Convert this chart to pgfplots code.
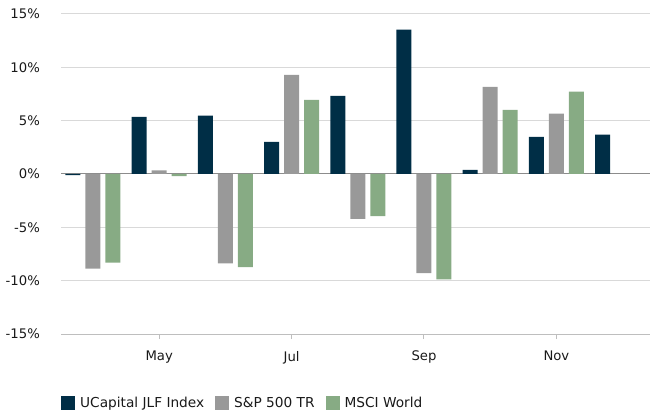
\documentclass[border=0pt]{standalone}
\usepackage{pgfplots}
\pgfplotsset{compat=1.18}
\usepackage{fontspec}
\setmainfont{DejaVu Sans}
\definecolor{cDark}{RGB}{0,46,70}
\definecolor{cGray}{RGB}{153,153,153}
\definecolor{cGreen}{RGB}{135,171,132}
\definecolor{cGrid}{RGB}{217,217,217}
\definecolor{cAxis}{RGB}{190,190,190}
\definecolor{cZero}{RGB}{140,140,140}
\definecolor{cText}{RGB}{25,25,25}
\begin{document}
\fontsize{13bp}{16bp}\selectfont
\begin{tikzpicture}
\useasboundingbox (0,0) rectangle (650bp,412bp);
\begin{axis}[
  at={(61bp,78bp)}, anchor=south west,
  width=589bp, height=320bp, scale only axis,
  xmin=-0.483, xmax=8.414,
  ymin=-15, ymax=15,
  ytick={-15,-10,...,15},
  yticklabel={\pgfmathprintnumber{\tick}\%},
  /pgf/number format/assume math mode=true,
  ymajorgrids, grid style={cGrid, line width=1bp},
  xtick={1,3,5,7}, xticklabels={May,Jul,Sep,Nov},
  axis x line*=bottom, axis y line*=left,
  x axis line style={draw=cAxis, line width=1bp, -},
  y axis line style={draw=none, -},
  ytick style={draw=none},
  xtick style={draw=cAxis, line width=1bp},
  tick align=outside, major tick length=5bp,
  ticklabel style={font=\fontsize{13.2bp}{16bp}\selectfont, text=cText},
  yticklabel style={inner sep=0pt, xshift=-16bp},
  xticklabel style={inner sep=0pt, yshift=-12bp},
  extra y ticks={0}, extra y tick labels={},
  extra y tick style={grid style={cZero, line width=1bp}},
  ybar, bar width=15bp,
  legend columns=-1,
  legend style={at={(0,-0.2156)}, anchor=west, draw=none, fill=none, inner sep=0pt,
    /tikz/every odd column/.append style={column sep=3bp},
    /tikz/every even column/.append style={column sep=9bp},
    font=\fontsize{13.7bp}{16bp}\selectfont, text=cText},
  legend image code/.code={\fill[#1] (0bp,-7bp) rectangle (14bp,7bp);},
]
\addplot[fill=cDark, draw=none, bar shift=-20bp] coordinates {
(0,-0.1) (1,5.36) (2,5.48) (3,3.02) (4,7.33) (5,13.54) (6,0.39) (7,3.48) (8,3.70)};
\addplot[fill=cGray, draw=none, bar shift=0bp] coordinates {
(0,-8.86) (1,0.33) (2,-8.39) (3,9.30) (4,-4.20) (5,-9.30) (6,8.17) (7,5.67)};
\addplot[fill=cGreen, draw=none, bar shift=20bp] coordinates {
(0,-8.30) (1,-0.20) (2,-8.73) (3,6.95) (4,-3.95) (5,-9.89) (6,6.02) (7,7.73)};
\legend{UCapital JLF Index, S\&P 500 TR, MSCI World}
\end{axis}
\end{tikzpicture}
\end{document}
